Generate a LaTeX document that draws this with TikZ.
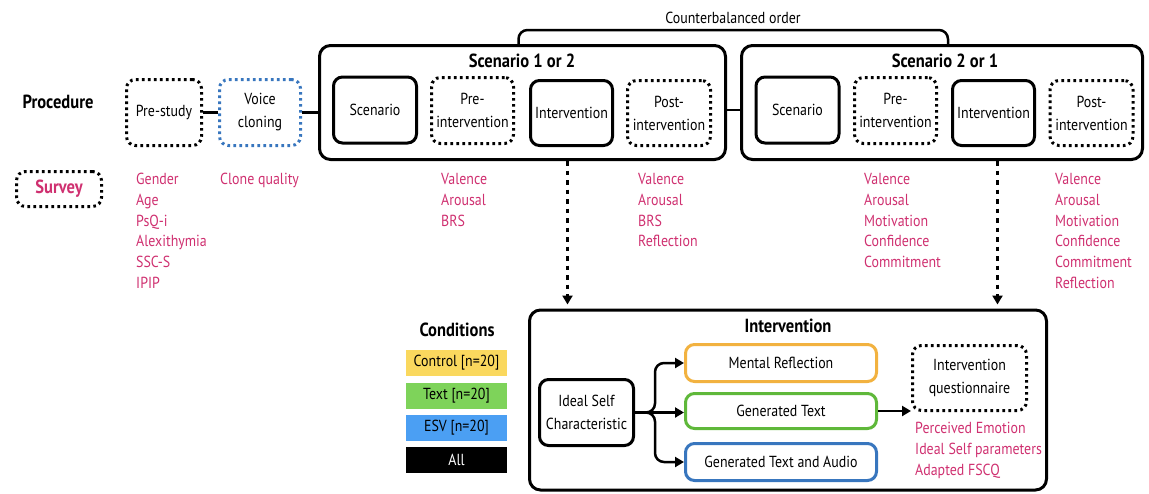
\documentclass[tikz,border=0pt]{standalone}
\usepackage{fontspec}
\setmainfont[FakeStretch=0.87]{PT Sans}
\usetikzlibrary{arrows.meta,calc}

\definecolor{survcol}{RGB}{207,48,112}
\definecolor{orangecol}{RGB}{242,178,64}
\definecolor{greencol}{RGB}{95,184,58}
\definecolor{bluecol}{RGB}{56,118,190}
\definecolor{condyellow}{RGB}{250,216,94}
\definecolor{condgreen}{RGB}{126,211,90}
\definecolor{condblue}{RGB}{75,159,243}

\tikzset{
  box/.style={draw, line width=3pt, rounded corners=9pt, align=center, inner sep=0pt,
    font=\fontsize{16}{23}\selectfont},
  solidbox/.style={box},
  dotbox/.style={box, dash pattern=on 2.6pt off 3.4pt},
  outerbox/.style={draw, line width=3pt, rounded corners=11pt, inner sep=0pt},
  title/.style={font=\fontsize{19}{22}\selectfont\bfseries, inner sep=0pt},
  survlist/.style={anchor=north west, align=left, inner sep=0pt, text=survcol,
    font=\fontsize{16}{20.8}\selectfont},
  cond/.style={minimum width=101pt, minimum height=26pt, inner sep=0pt,
    font=\fontsize{16}{19}\selectfont},
  link/.style={line width=2.5pt},
  brarrow/.style={line width=2.5pt, -{Triangle[length=9pt,width=10pt]}},
  dasharrow/.style={line width=2.5pt, dash pattern=on 4.5pt off 5pt,
    -{Triangle[length=9pt,width=10pt]}, shorten >=4pt}
}

\begin{document}
\begin{tikzpicture}[x=1pt,y=-1pt]
\useasboundingbox (0,0) rectangle (1149,493);

% procedure row
\node[title] (proc) at (58,102) {Procedure};
\node[dotbox, minimum width=75pt, minimum height=66pt] (prestudy) at (164,112.5) {Pre-study};
\node[dotbox, draw=bluecol, minimum width=81pt, minimum height=66pt] (voice) at (260,112.5) {Voice\\cloning};

% scenario blocks
\node[outerbox, minimum width=406pt, minimum height=114pt] (sc1) at (522.5,102.5) {};
\node[title] (sc1title) at (522,61) {Scenario 1 or 2};
\node[solidbox, minimum width=83pt, minimum height=66pt] (scen1) at (375,110) {Scenario};
\node[dotbox, minimum width=82pt, minimum height=66pt] (pre1) at (472.5,110.5) {Pre-\\intervention};
\node[solidbox, minimum width=82pt, minimum height=65pt] (int1) at (571.5,113) {Intervention};
\node[dotbox, minimum width=83pt, minimum height=65pt] (post1) at (669,113) {Post-\\intervention};

\node[outerbox, minimum width=401pt, minimum height=114pt] (sc2) at (942,102.5) {};
\node[title] (sc2title) at (945,61) {Scenario 2 or 1};
\node[solidbox, minimum width=83pt, minimum height=66pt] (scen2) at (797.5,110) {Scenario};
\node[dotbox, minimum width=82pt, minimum height=66pt] (pre2) at (895.5,110.5) {Pre-\\intervention};
\node[solidbox, minimum width=82pt, minimum height=65pt] (int2) at (993.5,113) {Intervention};
\node[dotbox, minimum width=83pt, minimum height=65pt] (post2) at (1091.5,113) {Post-\\intervention};

\draw[link] (prestudy) -- (voice);
\draw[link] (voice.east) -- (voice.east -| sc1.west);
\draw[link] (scen1.west -| sc1.east) -- (scen1.west -| sc2.west);

% counterbalanced bracket
\coordinate (cb1) at ($(sc1.north)+(-4,0)$);
\coordinate (cb2) at ($(sc2.north)+(6,0)$);
\draw[link, rounded corners=9pt] (cb1) -- ++(0,-14) -| (cb2);
\node[font=\fontsize{16}{19}\selectfont, inner sep=0pt] (cbtext) at (733,18) {Counterbalanced order};

% surveys
\node[dotbox, minimum width=85pt, minimum height=35pt, text=survcol,
  font=\fontsize{19}{22}\selectfont\bfseries] (survey) at (59,189) {Survey};
\node[survlist] (prelist) at (136,173) {Gender\\Age\\PsQ-i\\Alexithymia\\SSC-S\\IPIP};
\node[survlist] (clonelist) at (220,173) {Clone quality};
\node[survlist] (pre1list) at (441,173) {Valence\\Arousal\\BRS};
\node[survlist] (post1list) at (638,173) {Valence\\Arousal\\BRS\\Reflection};
\node[survlist] (pre2list) at (864,173) {Valence\\Arousal\\Motivation\\Confidence\\Commitment};
\node[survlist] (post2list) at (1055,173) {Valence\\Arousal\\Motivation\\Confidence\\Commitment\\Reflection};

% intervention detail
\node[outerbox, minimum width=517pt, minimum height=180pt] (ivbox) at (788,400) {};
\node[title] (ivtitle) at (788,326) {Intervention};

\coordinate (a1) at ($(int1 |- sc1.south)+(-4,0)$);
\coordinate (a2) at ($(int2 |- sc2.south)+(4,0)$);
\draw[dasharrow] (a1) -- (a1 |- ivbox.north);
\draw[dasharrow] (a2) -- (a2 |- ivbox.north);

% conditions legend
\node[title] (condtitle) at (457,330) {Conditions};
\node[cond, fill=condyellow] (ctrl) at (456.5,363) {Control [n=20]};
\node[cond, fill=condgreen] (ctext) at (456.5,395.5) {Text [n=20]};
\node[cond, fill=condblue] (cesv) at (456.5,428) {ESV [n=20]};
\node[cond, fill=black, text=white] (call) at (456.5,460) {All};

\node[solidbox, minimum width=94pt, minimum height=66pt] (ideal) at (586.5,412.5) {Ideal Self\\Characteristic};
\node[solidbox, draw=orangecol, minimum width=191pt, minimum height=37pt] (mref) at (781,363) {Mental Reflection};
\node[solidbox, draw=greencol, minimum width=191pt, minimum height=35pt] (gtext) at (781,411) {Generated Text};
\node[solidbox, draw=bluecol, minimum width=191pt, minimum height=37pt] (gaudio) at (781,462) {Generated Text and Audio};
\node[dotbox, minimum width=114pt, minimum height=65pt] (quest) at (969.5,378) {Intervention\\questionnaire};
\node[survlist] (questlist) at (915,422) {Perceived Emotion\\Ideal Self parameters\\Adapted FSCQ};

\coordinate (fork) at ($(ideal.east)+(20,0)$);
\draw[brarrow] (ideal.east) -- (ideal.east -| gtext.west);
\draw[brarrow, rounded corners=9pt] (ideal.east) -- (fork) |- (mref.west);
\draw[brarrow, rounded corners=9pt] (ideal.east) -- (fork) |- (gaudio.west);
\draw[brarrow] (gtext.east) -- (gtext.east -| quest.west);
\end{tikzpicture}
\end{document}
